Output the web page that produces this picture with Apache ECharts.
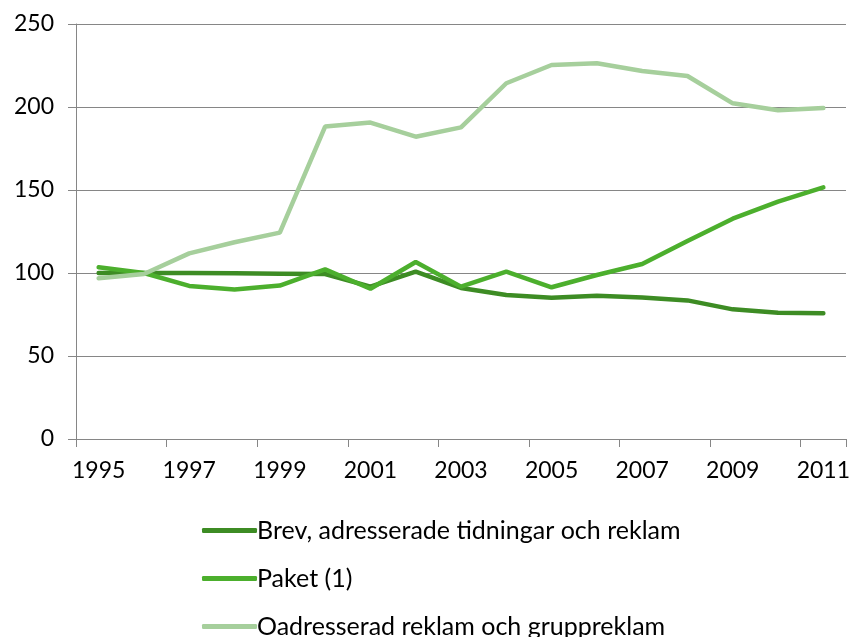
<!DOCTYPE html>
<html>
<head>
<meta charset="utf-8">
<script src="https://cdn.jsdelivr.net/npm/echarts@6/dist/echarts.min.js"></script>
<style>
  html, body { margin: 0; padding: 0; background: #fff; }
  #chart { width: 853px; height: 637px; }
</style>
</head>
<body>
<div id="chart"></div>
<script>
// år (kategorier)
const years = ['1995', '1996', '1997', '1998', '1999', '2000', '2001', '2002', '2003',
  '2004', '2005', '2006', '2007', '2008', '2009', '2010', '2011']

// index
const brev = [100, 100, 100, 99.8, 99.6, 99.4, 91.8, 100.8, 91, 86.7, 85.1, 86.3, 85.3, 83.5, 78.1, 76.1, 75.7]
const paket = [103.4, 100, 92.2, 90, 92.4, 102.2, 90.5, 106.6, 91.8, 100.8, 91.4, 98.8, 105.4, 119.3, 132.7, 143, 151.6]
const oadresserad = [96.8, 99.4, 111.8, 118.5, 124.3, 188.2, 190.6, 182.1, 187.7, 214.3, 225.3, 226.3, 221.7, 218.7, 202.2, 198, 199.4]

const names = ['Brev, adresserade tidningar och reklam', 'Paket (1)', 'Oadresserad reklam och gruppreklam']
const colors = ['#3d8c24', '#4caf2d', '#a6cf9c']

const axisGray = '#868686'
const font = 'Lato, "Open Sans", sans-serif'

// en legend per serie, så att de ligger under varandra utan att brytas till kolumner
const legendTops = [513, 561, 609]
const legends = names.map((n, i) => ({
  left: 197,
  top: legendTops[i],
  itemWidth: 55,
  itemHeight: 5,
  icon: 'roundRect',
  textStyle: { fontFamily: font, fontSize: 25, color: '#000', padding: [0, 0, 0, -5] },
  data: [n],
}))

const chart = echarts.init(document.getElementById('chart'))
chart.setOption({
  animation: false,
  color: colors,
  grid: {
    left: 76,
    right: 6,
    top: 24,
    bottom: 198,
  },
  legend: legends,
  xAxis: {
    type: 'category',
    data: years,
    boundaryGap: true,
    axisLine: { lineStyle: { color: axisGray, width: 1 } },
    axisTick: { show: true, length: 8, lineStyle: { color: axisGray } },
    axisLabel: {
      interval: 1,
      margin: 20,
      fontFamily: font,
      fontSize: 23,
      color: '#000',
    },
  },
  yAxis: {
    type: 'value',
    min: 0,
    max: 250,
    interval: 50,
    axisLine: { show: true, lineStyle: { color: axisGray, width: 1 } },
    axisTick: { show: true, length: 8, lineStyle: { color: axisGray } },
    splitLine: { lineStyle: { color: axisGray, width: 1 } },
    axisLabel: {
      margin: 22,
      fontFamily: font,
      fontSize: 23,
      color: '#000',
    },
  },
  series: [
    { name: names[0], type: 'line', data: brev, symbol: 'none', lineStyle: { width: 4.5, cap: 'round' } },
    { name: names[1], type: 'line', data: paket, symbol: 'none', lineStyle: { width: 4.5, cap: 'round' } },
    { name: names[2], type: 'line', data: oadresserad, symbol: 'none', lineStyle: { width: 4.5, cap: 'round' } },
  ],
})
</script>
</body>
</html>
